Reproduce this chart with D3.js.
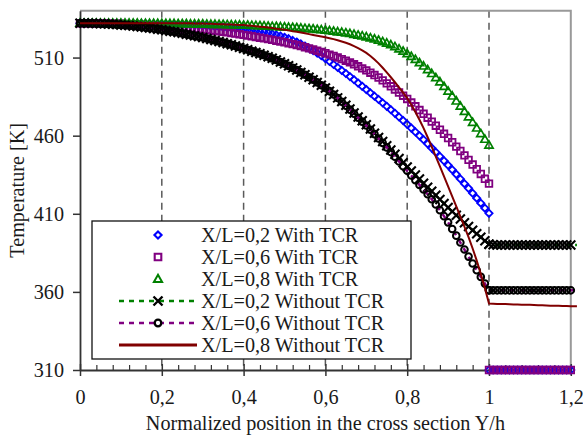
<!DOCTYPE html>
<html>
<head>
<meta charset="utf-8">
<script src="https://cdn.jsdelivr.net/npm/d3@7"></script>
<style>
  html, body { margin: 0; padding: 0; background: #fff; }
  svg { display: block; }
  svg text { font-family: "Liberation Serif", "Times New Roman", serif !important; }
</style>
</head>
<body>
<svg id="chart" width="583" height="435"></svg>
<script>
// Normalized position Y/h in the fluid (0..1) and in the solid wall (1..1.2)
const fluidPos = [0,0.01,0.02,0.03,0.04,0.05,0.06,0.07,0.08,0.09,0.1,0.11,0.12,0.13,0.14,0.15,0.16,0.17,0.18,0.19,0.2,0.21,0.22,0.23,0.24,0.25,0.26,0.27,0.28,0.29,0.3,0.31,0.32,0.33,0.34,0.35,0.36,0.37,0.38,0.39,0.4,0.41,0.42,0.43,0.44,0.45,0.46,0.47,0.48,0.49,0.5,0.51,0.52,0.53,0.54,0.55,0.56,0.57,0.58,0.59,0.6,0.61,0.62,0.63,0.64,0.65,0.66,0.67,0.68,0.69,0.7,0.71,0.72,0.73,0.74,0.75,0.76,0.77,0.78,0.79,0.8,0.81,0.82,0.83,0.84,0.85,0.86,0.87,0.88,0.89,0.9,0.91,0.92,0.93,0.94,0.95,0.96,0.97,0.98,0.99,1];
const solidPos = [1,1.01,1.02,1.03,1.04,1.05,1.06,1.07,1.08,1.09,1.1,1.11,1.12,1.13,1.14,1.15,1.16,1.17,1.18,1.19,1.2];
const lineTailPos = 1.215;

// Temperature [K], with thermal contact resistance
const withTCR02 = [532.0,532.0,532.0,532.0,532.0,532.0,532.0,531.9,531.9,531.9,
  531.9,531.8,531.8,531.8,531.7,531.7,531.6,531.6,531.5,531.5,
  531.4,531.3,531.2,531.2,531.1,531.0,530.9,530.8,530.7,530.5,
  530.4,530.2,530.0,529.8,529.6,529.4,529.1,528.9,528.6,528.3,
  528.0,527.6,527.3,527.0,526.6,526.2,525.7,525.1,524.5,523.8,
  523.0,522.1,521.0,519.9,518.7,517.4,516.0,514.5,512.9,511.2,
  509.4,507.5,505.6,503.7,501.8,499.8,497.8,495.8,493.7,491.6,
  489.5,487.4,485.3,483.2,481.0,478.8,476.6,474.3,472.0,469.7,
  467.3,464.9,462.4,459.9,457.4,454.8,452.1,449.4,446.7,443.9,
  441.1,438.2,435.3,432.3,429.3,426.3,423.2,420.0,416.8,413.6,
  410.3];
const withTCR06 = [532.0,532.0,532.0,531.9,531.9,531.9,531.8,531.8,531.7,531.7,
  531.6,531.5,531.4,531.3,531.1,531.0,530.9,530.7,530.6,530.4,
  530.3,530.1,529.9,529.7,529.5,529.3,529.1,528.8,528.6,528.3,
  528.0,527.7,527.4,527.1,526.8,526.5,526.1,525.7,525.3,524.9,
  524.5,524.1,523.6,523.2,522.7,522.3,521.8,521.3,520.8,520.3,
  519.8,519.2,518.6,518.0,517.3,516.6,515.9,515.2,514.4,513.6,
  512.8,511.9,511.0,510.0,509.0,508.0,506.9,505.7,504.4,503.1,
  501.8,500.3,498.8,497.2,495.4,493.5,491.6,489.6,487.6,485.6,
  483.5,481.2,478.8,476.4,474.0,471.5,469.0,466.4,463.8,461.2,
  458.5,455.8,453.0,450.2,447.4,444.5,441.5,438.5,435.5,432.4,
  429.3];
const withTCR08 = [532.0,532.0,532.0,532.0,532.0,532.0,532.0,532.0,532.0,532.0,
  532.0,532.0,532.0,532.0,532.0,531.9,531.9,531.9,531.9,531.9,
  531.9,531.8,531.8,531.8,531.7,531.7,531.7,531.6,531.6,531.5,
  531.5,531.4,531.3,531.3,531.2,531.2,531.1,531.0,530.9,530.9,
  530.8,530.7,530.6,530.5,530.4,530.3,530.1,530.0,529.9,529.7,
  529.6,529.4,529.3,529.1,528.9,528.7,528.5,528.3,528.0,527.8,
  527.5,527.2,526.9,526.5,526.2,525.8,525.4,524.9,524.4,523.9,
  523.3,522.6,521.9,521.1,520.2,519.3,518.2,517.0,515.6,514.1,
  512.5,510.7,508.8,506.7,504.6,502.3,499.8,497.2,494.5,491.5,
  488.5,485.4,482.2,478.9,475.5,472.0,468.5,464.9,461.3,457.7,
  454.0];
const solidWithTCR02 = [310,310,310,310,310,310,310,310,310,310,310,310,310,310,310,310,310,310,310,310,310];
const solidWithTCR06 = [310,310,310,310,310,310,310,310,310,310,310,310,310,310,310,310,310,310,310,310,310];

// Temperature [K], without thermal contact resistance
const withoutTCR02 = [532.0,532.0,532.0,531.9,531.8,531.7,531.6,531.5,531.3,531.1,
  530.9,530.7,530.5,530.2,529.9,529.6,529.3,528.9,528.6,528.2,
  527.8,527.4,526.9,526.5,526.0,525.5,525.0,524.5,523.9,523.4,
  522.8,522.2,521.6,520.9,520.3,519.6,518.9,518.2,517.4,516.6,
  515.8,515.0,514.1,513.3,512.4,511.5,510.5,509.5,508.4,507.2,
  506.0,504.7,503.4,502.0,500.5,499.0,497.4,495.8,494.1,492.3,
  490.5,488.5,486.4,484.2,481.9,479.5,477.0,474.5,472.0,469.5,
  467.0,464.3,461.6,458.9,456.2,453.5,450.8,448.1,445.4,442.7,
  440.0,437.4,434.8,432.2,429.6,427.0,424.4,421.8,419.2,416.6,
  414.0,411.5,409.1,406.6,404.2,401.8,399.5,397.2,395.0,392.7,
  390.5];
const withoutTCR06 = [532.0,532.0,532.0,531.9,531.8,531.7,531.6,531.5,531.3,531.1,
  530.9,530.7,530.5,530.2,529.9,529.6,529.3,528.9,528.6,528.2,
  527.8,527.4,526.9,526.5,526.0,525.5,525.0,524.5,523.9,523.4,
  522.8,522.2,521.6,520.9,520.3,519.6,518.9,518.2,517.4,516.6,
  515.8,515.0,514.1,513.3,512.4,511.5,510.5,509.5,508.4,507.2,
  506.0,504.7,503.4,502.0,500.5,499.0,497.4,495.8,494.1,492.3,
  490.5,488.5,486.4,484.1,481.7,479.2,476.7,474.1,471.5,469.0,
  466.5,463.8,461.0,458.2,455.4,452.5,449.5,446.5,443.5,440.5,
  437.5,434.5,431.5,428.5,425.5,422.5,419.3,415.9,412.3,408.5,
  404.5,400.3,396.0,391.6,387.1,382.6,378.2,373.9,369.6,365.3,
  361.0];
const withoutTCR08 = [532.0,532.0,532.0,532.0,532.0,532.0,532.0,532.0,532.0,532.0,
  532.0,532.0,532.0,532.0,532.0,532.0,532.0,532.0,532.0,532.0,
  532.0,532.0,532.0,531.9,531.9,531.9,531.9,531.9,531.8,531.8,
  531.8,531.7,531.6,531.5,531.4,531.3,531.2,531.1,531.0,530.9,
  530.8,530.6,530.4,530.1,529.8,529.5,529.2,528.9,528.5,528.2,
  527.8,527.4,526.9,526.5,526.0,525.5,525.0,524.5,524.0,523.5,
  523.0,522.4,521.8,521.1,520.3,519.5,518.5,517.3,516.0,514.6,
  513.0,511.0,508.8,506.3,503.5,500.5,497.4,494.2,490.9,487.5,
  484.0,479.8,475.2,470.2,464.8,459.0,452.9,446.6,440.3,433.9,
  427.5,421.1,414.7,408.2,401.7,395.0,387.8,380.0,371.4,362.3,
  352.5];
const solidWithoutTCR02 = [390.5,390.2,390.0,390.0,390.0,390.0,390.0,390.0,390.0,390.0,390.0,390.0,390.0,390.0,390.0,390.0,390.0,390.0,390.0,390.0,390.0];
const solidWithoutTCR06 = [361.0,361.0,361.0,361.0,361.0,361.0,361.0,361.0,361.0,361.0,361.0,361.0,361.0,361.0,361.0,361.0,361.0,361.0,361.0,361.0,361.0];
const solidWithoutTCR08 = [352.5,352.4,352.3,352.2,352.2,352.1,352.0,351.9,351.8,351.7,351.7,351.6,351.5,351.4,351.3,351.2,351.2,351.1,351.0,350.9,350.8];

const legendLabels = ["X/L=0,2 With TCR", "X/L=0,6 With TCR", "X/L=0,8 With TCR",
  "X/L=0,2 Without TCR", "X/L=0,6 Without TCR", "X/L=0,8 Without TCR"];
const xTicks = [0, 0.2, 0.4, 0.6, 0.8, 1, 1.2];
const yTicks = [310, 360, 410, 460, 510];
const gridPositions = [0.2, 0.4, 0.6, 0.8, 1];
const xTitle = "Normalized position in the cross section Y/h";
const yTitle = "Temperature [K]";

// ---------------------------------------------------------------
const FONT = 20.2;
const SERIF = "'Liberation Serif', 'Times New Roman', serif";
const svg = d3.select("#chart");
const x = d3.scaleLinear().domain([0, 1.2]).range([80, 570.8]);
const y = d3.scaleLinear().domain([310, 540]).range([370, 10.7]);
const fmt = d => String(d).replace(".", ",");
const pair = (ps, vs) => ps.map((p, i) => [p, vs[i]]);
const styleText = sel => sel.style("font-family", SERIF).style("font-size", FONT + "px").attr("fill", "#1a1a1a");

// vertical dashed gridlines
svg.append("g").selectAll("line").data(gridPositions).join("line")
  .attr("x1", d => x(d)).attr("x2", d => x(d))
  .attr("y1", y(540)).attr("y2", y(310))
  .attr("stroke", "#5a5a5a").attr("stroke-width", 1.5)
  .attr("stroke-dasharray", "7,5");

// top and right frame
svg.append("path")
  .attr("d", `M${x(0)},${y(540)}H${x(1.2)}V${y(310)}`)
  .attr("fill", "none").attr("stroke", "#999").attr("stroke-width", 2);

// minor ticks on the x axis (inside only)
const minor = d3.range(0.04, 1.2, 0.04).filter(v => Math.abs(v / 0.2 - Math.round(v / 0.2)) > 1e-6);
const minorAxis = svg.append("g").attr("transform", `translate(0,${y(310)})`)
  .call(d3.axisBottom(x).tickValues(minor).tickSize(-5).tickFormat(""));
minorAxis.select(".domain").remove();
minorAxis.selectAll("line").attr("stroke", "#333").attr("stroke-width", 1.2);

// x axis
const xAxis = svg.append("g").attr("transform", `translate(0,${y(310)})`)
  .call(d3.axisBottom(x).tickValues(xTicks).tickSize(6).tickSizeOuter(0).tickPadding(14).tickFormat(fmt));
xAxis.attr("font-family", null).attr("font-size", null);
xAxis.selectAll(".tick").append("line").attr("y2", -6);
xAxis.selectAll("line").attr("stroke", "#333").attr("stroke-width", 1.5);
xAxis.select(".domain").attr("stroke", "#333").attr("stroke-width", 1.8);
styleText(xAxis.selectAll("text"));

// y axis
const yAxis = svg.append("g").attr("transform", `translate(${x(0)},0)`)
  .call(d3.axisLeft(y).tickValues(yTicks).tickSize(7).tickSizeOuter(0).tickPadding(9));
yAxis.attr("font-family", null).attr("font-size", null);
yAxis.selectAll("line").attr("stroke", "#333").attr("stroke-width", 1.5);
yAxis.select(".domain").attr("stroke", "#333").attr("stroke-width", 1.8);
styleText(yAxis.selectAll("text"));

// axis titles
styleText(svg.append("text").attr("x", (x(0) + x(1.2)) / 2).attr("y", 430)
  .attr("text-anchor", "middle").text(xTitle));
styleText(svg.append("text").attr("transform", `translate(23.5,${(y(310) + y(540)) / 2}) rotate(-90)`)
  .attr("text-anchor", "middle").text(yTitle));

// marker shapes
const markerPath = {
  diamond: "M0,-3.6L3.6,0L0,3.6L-3.6,0Z",
  square: "M-3.3,-3.3H3.3V3.3H-3.3Z",
  triangle: "M0,-4.2L4.1,3L-4.1,3Z",
  cross: "M-4.5,-4.5L4.5,4.5M-4.5,4.5L4.5,-4.5",
  circle: "M3.3,0A3.3,3.3,0,1,1,-3.3,0A3.3,3.3,0,1,1,3.3,0Z"
};

const series = [
  { label: legendLabels[0], pts: pair(fluidPos, withTCR02).concat(pair(solidPos, solidWithTCR02)),
    marker: "diamond", mColor: "#0000ff", mWidth: 1.8 },
  { label: legendLabels[1], pts: pair(fluidPos, withTCR06).concat(pair(solidPos, solidWithTCR06)),
    marker: "square", mColor: "#800080", mWidth: 1.8 },
  { label: legendLabels[2], pts: pair(fluidPos, withTCR08),
    marker: "triangle", mColor: "#008000", mWidth: 1.7 },
  { label: legendLabels[3], pts: pair(fluidPos, withoutTCR02).concat(pair(solidPos, solidWithoutTCR02)),
    marker: "cross", mColor: "#000", mWidth: 2.1, line: "#008000", lWidth: 2.5, dash: "5,5" },
  { label: legendLabels[4], pts: pair(fluidPos, withoutTCR06).concat(pair(solidPos, solidWithoutTCR06)),
    marker: "circle", mColor: "#000", mWidth: 2, line: "#800080", lWidth: 2.5, dash: "5,5" },
  { label: legendLabels[5], pts: pair(fluidPos, withoutTCR08).concat(pair(solidPos, solidWithoutTCR08)),
    line: "#800000", lWidth: 2 }
];

const lineGen = d3.line().x(d => x(d[0])).y(d => y(d[1]));
const plot = svg.append("g");
series.forEach(s => {
  if (s.line) {
    const last = s.pts[s.pts.length - 1];
    plot.append("path").datum(s.pts.concat([[lineTailPos, last[1]]]))
      .attr("d", lineGen).attr("fill", "none")
      .attr("stroke", s.line).attr("stroke-width", s.lWidth)
      .attr("stroke-dasharray", s.dash || null);
  }
  if (s.marker) {
    plot.append("g").selectAll("path").data(s.pts).join("path")
      .attr("transform", d => `translate(${x(d[0])},${y(d[1])})`)
      .attr("d", markerPath[s.marker])
      .attr("fill", "none").attr("stroke", s.mColor).attr("stroke-width", s.mWidth);
  }
});

// legend
const legend = svg.append("g");
legend.append("rect").attr("x", 92).attr("y", 221).attr("width", 319).attr("height", 138)
  .attr("fill", "#fff").attr("stroke", "#111").attr("stroke-width", 1.3);
series.forEach((s, i) => {
  const cy = 235 + i * 22;
  const row = legend.append("g");
  if (s.line) {
    row.append("line").attr("x1", 119).attr("x2", 197).attr("y1", cy).attr("y2", cy)
      .attr("stroke", s.line).attr("stroke-width", s.dash ? 2.6 : 2.8)
      .attr("stroke-dasharray", s.dash || null);
  }
  if (s.marker) {
    row.append("path").attr("transform", `translate(158,${cy})`).attr("d", markerPath[s.marker])
      .attr("fill", s.marker === "circle" ? "#fff" : "none")
      .attr("stroke", s.mColor).attr("stroke-width", s.mWidth + 0.3);
  }
  styleText(row.append("text").attr("x", 201).attr("y", cy + 6.9).text(s.label));
});
</script>
</body>
</html>
